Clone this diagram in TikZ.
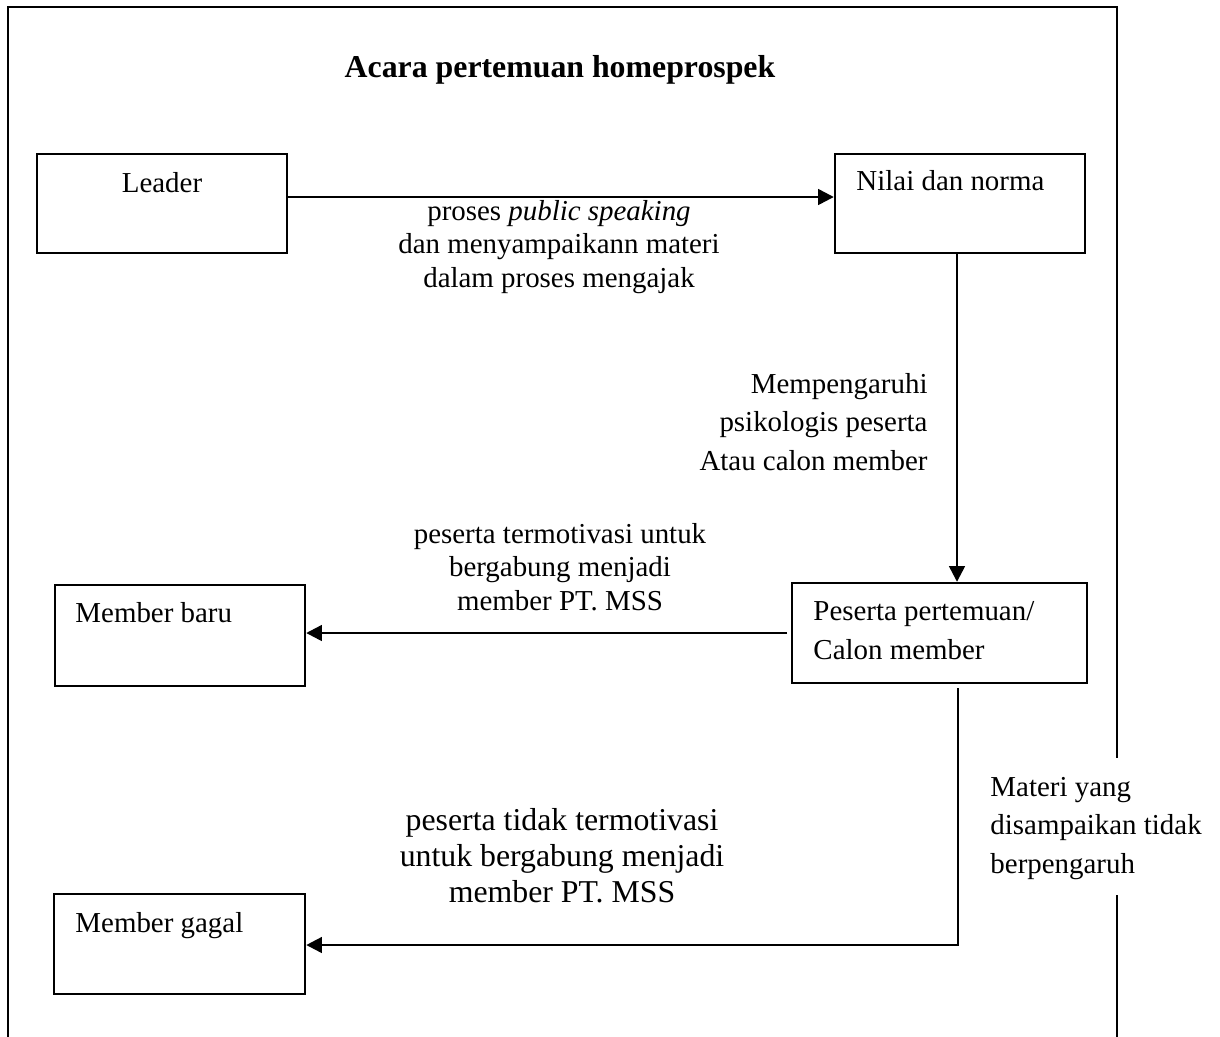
\documentclass[tikz,border=0pt]{standalone}
\usepackage{fontspec}
\setmainfont{Liberation Serif}
\usetikzlibrary{arrows.meta}
\begin{document}
\begin{tikzpicture}[x=0.415pt,y=-0.415pt,
  box/.style={draw, line width=1pt, inner sep=0pt},
  txt/.style={inner sep=0pt, font=\fontsize{12pt}{14pt}\selectfont},
  frameline/.style={line width=1.1pt},
  arr/.style={line width=1pt, -{Triangle[length=6.5pt,width=6.5pt]}},
  plain/.style={line width=1pt}]
\useasboundingbox (0,0) rectangle (1220,1036);
% outer frame
\draw[frameline] (8,1045) -- (8,7) -- (1117,7) -- (1117,758);
\draw[frameline] (1117,895) -- (1117,1045);
% title
\node[txt, anchor=base, font=\fontsize{13.2pt}{15pt}\selectfont\bfseries] (title) at (560,77) {Acara pertemuan homeprospek};
% boxes
\node[box, minimum width=103.75pt, minimum height=41.1pt] (leader) at (162,203.5) {};
\node[txt, anchor=base] (leadert) at (162,192) {Leader};
\node[box, minimum width=103.75pt, minimum height=41.1pt] (nilai) at (960,203.5) {};
\node[txt, anchor=base west] (nilait) at (856,190) {Nilai dan norma};
\node[box, minimum width=122.4pt, minimum height=41.5pt] (peserta) at (939.5,633) {};
\node[txt, anchor=base west, align=left, font=\fontsize{12pt}{15.8pt}\selectfont] (pesertat) at (813,659) {Peserta pertemuan/\\Calon member};
\node[box, minimum width=103.75pt, minimum height=41.9pt] (mbaru) at (180,635.5) {};
\node[txt, anchor=base west] (mbarut) at (75,622) {Member baru};
\node[box, minimum width=104.2pt, minimum height=41.5pt] (mgagal) at (179.5,944) {};
\node[txt, anchor=base west] (mgagalt) at (75,932) {Member gagal};
% labels (anchor=base is the baseline of the last line)
\node[txt, anchor=base, align=center, font=\fontsize{12pt}{13.7pt}\selectfont] (lab1) at (559,287) {proses \textit{public speaking}\\dan menyampaikann materi\\dalam proses mengajak};
\node[txt, anchor=base east, align=right, font=\fontsize{12pt}{15.8pt}\selectfont] (lab2) at (928,470) {Mempengaruhi\\psikologis peserta\\Atau calon member};
\node[txt, anchor=base, align=center, font=\fontsize{12pt}{13.9pt}\selectfont] (lab3) at (560,610) {peserta termotivasi untuk\\bergabung menjadi\\member PT. MSS};
\node[txt, anchor=base, align=center, font=\fontsize{13.2pt}{14.9pt}\selectfont] (lab4) at (562,902) {peserta tidak termotivasi\\untuk bergabung menjadi\\member PT. MSS};
\node[txt, anchor=base west, align=left, font=\fontsize{12pt}{15.8pt}\selectfont] (lab5) at (990,873) {Materi yang\\disampaikan tidak\\berpengaruh};
% connectors
\coordinate (a1) at (0,197);
\draw[arr] (leader.east |- a1) -- (nilai.west |- a1);
\coordinate (a2) at (957,0);
\draw[arr] (nilai.south -| a2) -- (peserta.north -| a2);
\coordinate (a3) at (0,633);
\draw[arr] ([xshift=-1.5pt]peserta.west |- a3) -- (mbaru.east |- a3);
\coordinate (a4) at (958,945);
\draw[arr] ([yshift=-1.7pt]peserta.south -| a4) -- (a4) -- (mgagal.east |- a4);
\end{tikzpicture}
\end{document}
